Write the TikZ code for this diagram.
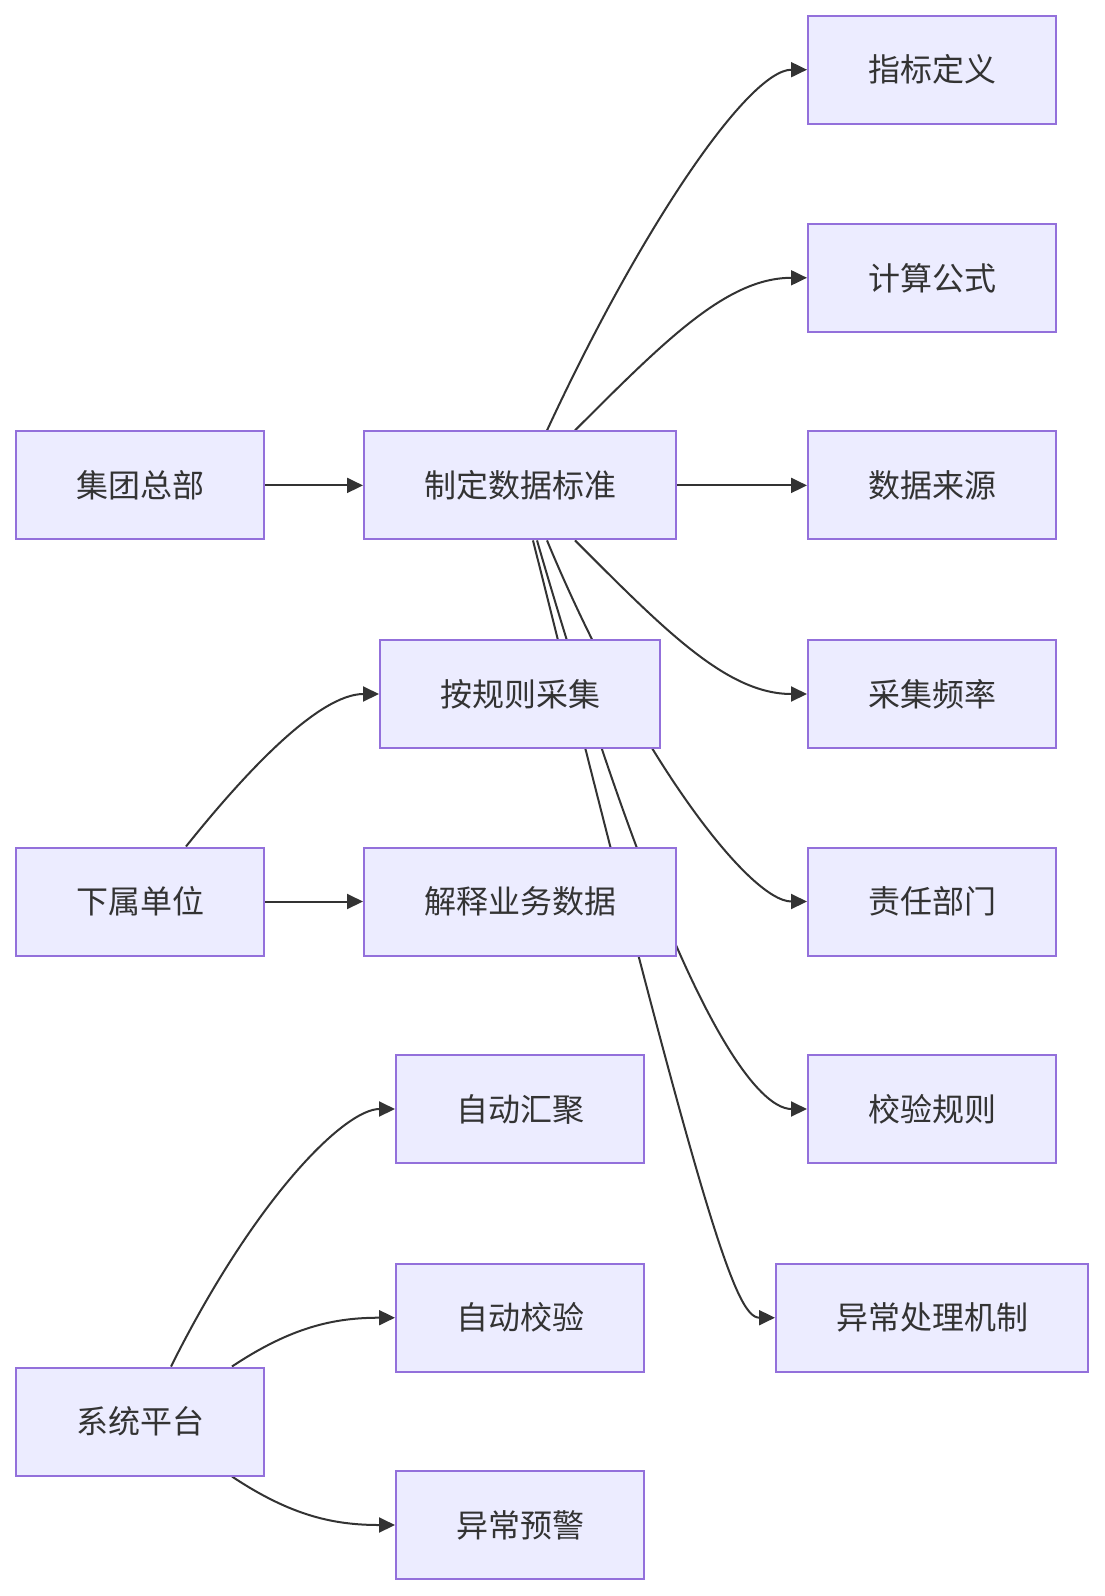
\documentclass[tikz,border=0pt]{standalone}
\usepackage{fontspec}
\setmainfont{Noto Sans CJK SC}
\usepackage{tikz}
\usetikzlibrary{arrows.meta,calc,backgrounds}
\definecolor{boxfill}{HTML}{ECECFF}
\definecolor{boxline}{HTML}{9370DB}
\definecolor{ink}{HTML}{333333}
\tikzset{
  box/.style={draw=boxline, fill=boxfill, line width=1pt, text=ink,
              font=\fontsize{16pt}{18pt}\selectfont,
              minimum width=124pt, minimum height=54pt, inner xsep=30pt},
  arr/.style={draw=ink, line width=1pt, -{Triangle[length=8pt,width=7.5pt]}}
}

\begin{document}
\begin{tikzpicture}[x=0.5pt,y=-0.5pt]
  \useasboundingbox (0,0) rectangle (1104,1596);

  % left column
  \node[box] (hq)  at (140,485.4)  {集团总部};
  \node[box] (sub) at (140,901.5)  {下属单位};
  \node[box] (sys) at (140,1421.5) {系统平台};

  % middle column
  \node[box] (std)  at (520,485.4) {制定数据标准};
  \node[box] (coll) at (520,694)   {按规则采集};
  \node[box] (expl) at (520,901.5) {解释业务数据};
  \node[box] (agg)  at (520,1109)  {自动汇聚};
  \node[box] (vchk) at (520,1317.7) {自动校验};
  \node[box] (warn) at (520,1525)  {异常预警};

  % right column
  \node[box] (def)  at (932,69.7)   {指标定义};
  \node[box] (form) at (932,277.8)  {计算公式};
  \node[box] (src)  at (932,485.4)  {数据来源};
  \node[box] (freq) at (932,694)    {采集频率};
  \node[box] (dept) at (932,901.5)  {责任部门};
  \node[box] (chk)  at (932,1109)   {校验规则};
  \node[box] (exc)  at (932,1317.7) {异常处理机制};

  \begin{pgfonlayer}{background}
    \draw[arr] (hq.east) -- (std.west);
    \draw[arr] (sub.east) -- (expl.west);
    \draw[arr] (std.east) -- (src.west);

    % standard -> items
    \draw[arr] ($(std.north)+(27,0)$) .. controls +(95,-205) and +(-58,0) .. (def.west);
    \draw[arr] ($(std.north)+(55,0)$) .. controls +(90,-90) and +(-80,0) .. (form.west);
    \draw[arr] ($(std.south)+(55,0)$) .. controls +(90,90) and +(-80,0) .. (freq.west);
    \draw[arr] ($(std.south)+(27,0)$) .. controls +(88,212) and +(-58,0) .. (dept.west);
    \draw[arr] ($(std.south)+(17,0)$) .. controls +(138,475) and +(-50,0) .. (chk.west);
    \draw[arr] ($(std.south)+(13,0)$) .. controls +(170,680) and +(-40,0) .. (exc.west);

    % units and platform
    \draw[arr] ($(sub.north)+(46,0)$) .. controls +(60,-75) and +(-60,0) .. (coll.west);
    \draw[arr] ($(sys.north)+(31,0)$) .. controls +(85,-170) and +(-50,0) .. (agg.west);
    \draw[arr] ($(sys.north)+(92,0)$) .. controls +(60,-40) and +(-60,0) .. (vchk.west);
    \draw[arr] ($(sys.south)+(92,0)$) .. controls +(60,40) and +(-60,0) .. (warn.west);
  \end{pgfonlayer}
\end{tikzpicture}
\end{document}
